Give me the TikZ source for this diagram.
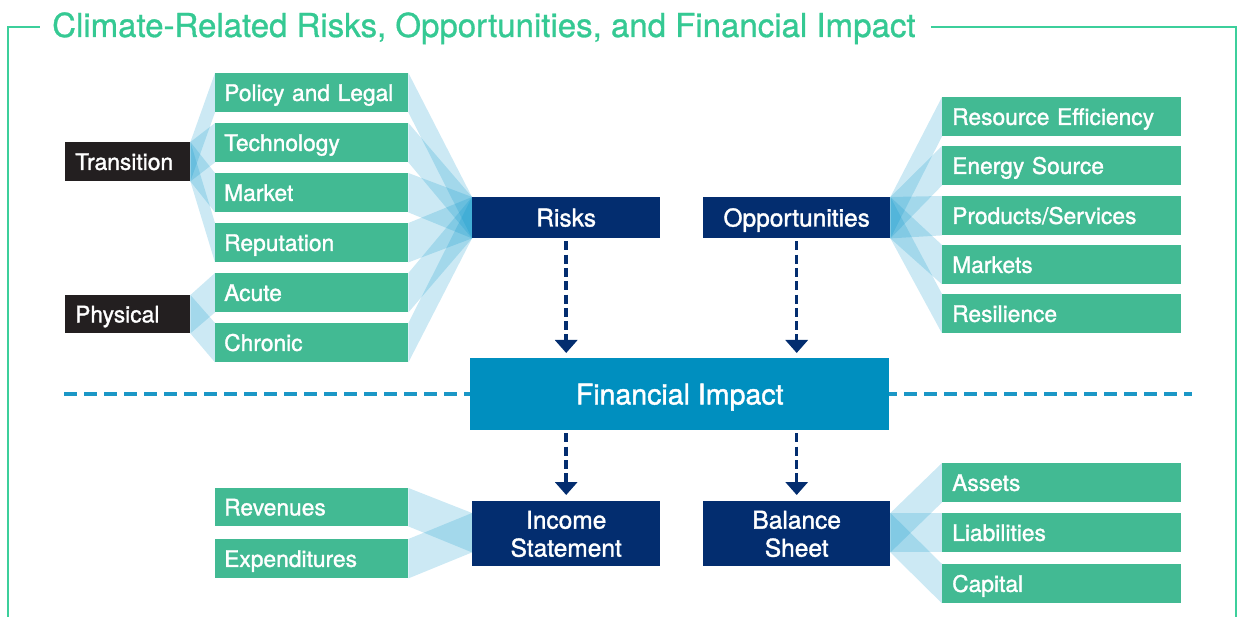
\documentclass[tikz,border=0pt]{standalone}
\usepackage{fontspec}
\setmainfont{TeX Gyre Heros}
\newfontfamily\medfont{TeX Gyre Heros}[FakeBold=1.4]
\newfontfamily\ttlfont{TeX Gyre Heros}[FakeBold=0.9]
\usetikzlibrary{arrows.meta,calc,backgrounds}
\definecolor{gboxc}{HTML}{42BA93}
\definecolor{navyc}{HTML}{032D6F}
\definecolor{blackc}{HTML}{231F20}
\definecolor{fic}{HTML}{008FBF}
\definecolor{fanc}{RGB}{0,146,200}
\definecolor{dashc}{HTML}{1B97C6}
\definecolor{titlec}{HTML}{35C993}
\definecolor{framec}{HTML}{3CCF9B}
\newcommand\fanlr[2]{\fill[fan] (#1.north east) -- (#2.north west) -- (#2.south west) -- (#1.south east) -- cycle;}
\begin{document}
\begin{tikzpicture}[x=1pt,y=-1pt,
  fan/.style={fill=fanc, fill opacity=0.2},
  gbox/.style={anchor=north west, fill=gboxc, text=white, inner ysep=0pt, inner xsep=9pt,
    minimum height=39pt, text width=175pt, align=left, text height=16.4pt, text depth=0pt,
    font=\medfont\fontsize{22.8}{26}\selectfont},
  rbox/.style={gbox, inner xsep=10pt, text width=219pt},
  kbox/.style={anchor=north west, fill=blackc, text=white, inner ysep=0pt, inner xsep=10pt,
    minimum height=39pt, text width=105pt, align=left, text height=16.4pt, text depth=0pt,
    font=\medfont\fontsize{22.8}{26}\selectfont},
  nbox/.style={anchor=north west, fill=navyc, text=white, inner sep=0pt, align=center,
    font=\medfont\fontsize{24.5}{28}\selectfont, text depth=0pt},
  darrow/.style={draw=navyc, line width=3.5pt, dash pattern=on 9pt off 4.3pt,
    -{Triangle[width=22pt,length=13pt]}, shorten <=3pt},
  frame/.style={draw=framec, line width=2pt},
]
\useasboundingbox (0,0) rectangle (1237,617);

% title and frame
\node[anchor=base west, inner sep=0pt, text=titlec, font=\ttlfont\fontsize{33}{36}\selectfont] (title) at (52,37)
  {Climate-Related Risks, Opportunities, and Financial Impact};
\draw[frame] (8,617) -- (8,27) -- ($(title.base west)+(-12,-10)$);
\draw[frame] ($(title.base east)+(15,-10)$) -- (1235.5,27) -- (1235.5,617);

% dashed separator
\coordinate (dl) at (64,394);
\coordinate (dr) at (1192,394);
\draw[draw=dashc, line width=4pt, dash pattern=on 12.5pt off 7.5pt] (dl) -- (dr);

% nodes
\node[kbox] (trans) at (65,142) {Transition};
\node[kbox, minimum height=38pt] (phys) at (65,295) {Physical};

\node[gbox] (pol) at (215,73) {Policy and Legal};
\node[gbox] (tech) at (215,123) {Technology};
\node[gbox] (mkt) at (215,173) {Market};
\node[gbox] (rep) at (215,223) {Reputation};
\node[gbox] (acu) at (215,273) {Acute};
\node[gbox] (chr) at (215,323) {Chronic};

\node[nbox, minimum width=188pt, minimum height=41pt, text height=17.6pt] (risks) at (472,197) {Risks};
\node[nbox, minimum width=187pt, minimum height=41pt, text height=17.6pt] (opp) at (703,197) {Opportunities};

\node[rbox] (res) at (942,97) {Resource Efficiency};
\node[rbox] (ene) at (942,146) {Energy Source};
\node[rbox] (prod) at (942,196) {Products/Services};
\node[rbox] (mkts) at (942,245) {Markets};
\node[rbox] (resi) at (942,294) {Resilience};

\node[anchor=north west, fill=fic, text=white, inner sep=0pt, minimum width=419pt, minimum height=72pt,
  text height=20.5pt, text depth=0pt, font=\medfont\fontsize{28.5}{32}\selectfont] (fi) at (470,358) {Financial Impact};

\node[gbox, minimum height=38pt] (rev) at (215,488) {Revenues};
\node[gbox] (expd) at (215,539) {Expenditures};

\node[nbox, minimum width=188pt, minimum height=65pt] (inc) at (472,501) {Income\\Statement};
\node[nbox, minimum width=187pt, minimum height=65pt] (bal) at (703,501) {Balance\\Sheet};

\node[rbox] (ast) at (942,463) {Assets};
\node[rbox] (lia) at (942,513) {Liabilities};
\node[rbox] (capt) at (942,564) {Capital};

% fans (behind boxes)
\begin{scope}[on background layer]
  \fanlr{trans}{pol}
  \fanlr{trans}{tech}
  \fanlr{trans}{mkt}
  \fanlr{trans}{rep}
  \fanlr{phys}{acu}
  \fanlr{phys}{chr}
  \fanlr{pol}{risks}
  \fanlr{tech}{risks}
  \fanlr{mkt}{risks}
  \fanlr{rep}{risks}
  \fanlr{acu}{risks}
  \fanlr{chr}{risks}
  \fanlr{opp}{res}
  \fanlr{opp}{ene}
  \fanlr{opp}{prod}
  \fanlr{opp}{mkts}
  \fanlr{opp}{resi}
  \fill[fan] (rev.north east) -- ([yshift=-12pt]inc.north west) -- ([yshift=14pt]inc.south west) -- (rev.south east) -- cycle;
  \fill[fan] (expd.north east) -- ([yshift=-12pt]inc.north west) -- ([yshift=14pt]inc.south west) -- (expd.south east) -- cycle;
  \fill[fan] ([yshift=-12pt]bal.north east) -- (ast.north west) -- (ast.south west) -- ([yshift=14pt]bal.south east) -- cycle;
  \fill[fan] ([yshift=-12pt]bal.north east) -- (lia.north west) -- (lia.south west) -- ([yshift=14pt]bal.south east) -- cycle;
  \fill[fan] ([yshift=-12pt]bal.north east) -- (capt.north west) -- (capt.south west) -- ([yshift=14pt]bal.south east) -- cycle;
\end{scope}

% arrows
\draw[darrow, shorten >=5pt] (risks.south) -- (risks.south |- fi.north);
\draw[darrow, shorten >=5pt] (opp.south) -- (opp.south |- fi.north);
\draw[darrow, shorten >=6pt] (inc.north |- fi.south) -- (inc.north);
\draw[darrow, shorten >=6pt] (bal.north |- fi.south) -- (bal.north);
\end{tikzpicture}
\end{document}
